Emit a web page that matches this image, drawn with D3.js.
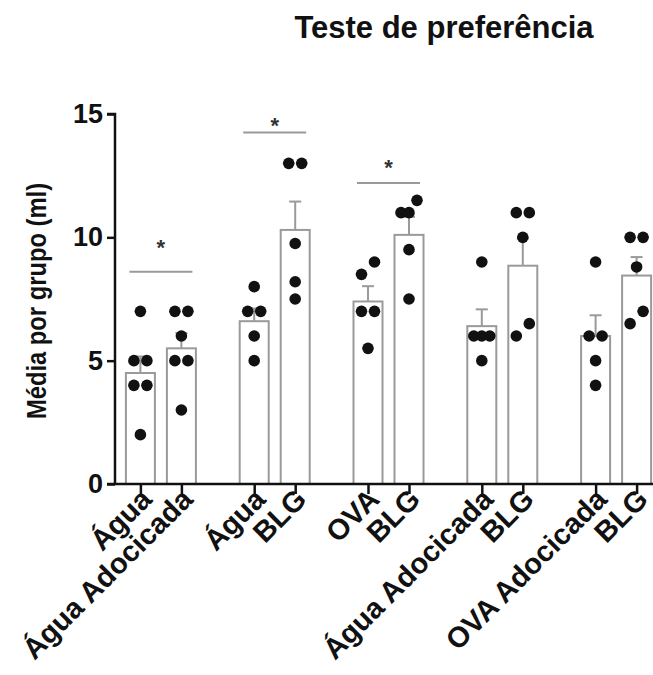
<!DOCTYPE html>
<html>
<head>
<meta charset="utf-8">
<script src="https://cdn.jsdelivr.net/npm/d3@7"></script>
<style>
  html, body { margin: 0; padding: 0; background: #fff; }
  svg { display: block; }
  text { font-family: "Liberation Sans", Arial, sans-serif; font-weight: bold; }
</style>
</head>
<body>
<svg id="chart" width="653" height="675"></svg>
<script>
// ---- data ----
const title = "Teste de preferência";
const yTitle = "Média por grupo (ml)";
const groups = ["G1", "G2", "G3", "G4", "G5"];
const categories = ["Água", "Água Adocicada", "Água", "BLG", "OVA", "BLG", "Água Adocicada", "BLG", "OVA Adocicada", "BLG"];
const groupOf = [0, 0, 1, 1, 2, 2, 3, 3, 4, 4];
const slotOf = [0, 1, 0, 1, 0, 1, 0, 1, 0, 1];
const means = [4.5, 5.5, 6.6, 10.3, 7.4, 10.1, 6.4, 8.85, 6.0, 8.45];
const sems = [0.67, 0.62, 0.51, 1.15, 0.62, 0.73, 0.68, 1.1, 0.84, 0.75];
const points = [
  [7, 5, 5, 4, 4, 2],
  [7, 7, 6, 5, 5, 3],
  [8, 7, 7, 6, 5],
  [13, 13, 9.75, 8.2, 7.5],
  [9, 8.5, 7, 7, 5.5],
  [11.5, 11, 11, 9.5, 7.5],
  [9, 6, 6, 6, 5],
  [11, 11, 10, 6.5, 6],
  [9, 6, 6, 5, 4],
  [10, 10, 8.8, 7, 6.5]
];
const yTicks = [0, 5, 10, 15];
const sigFrom = [0, 2, 4];
const sigTo = [1, 3, 5];
const sigLine = [8.6, 14.25, 12.2];
const sigStar = [9.8, 14.75, 13.05];

// ---- layout ----
const svg = d3.select("#chart");
const y = d3.scaleLinear().domain([0, 15]).range([484, 114]);
const xGroup = d3.scaleBand().domain(groups).range([104, 673]).padding(0);
const xSlot = d3.scalePoint().domain([0, 1]).range([-20.5, 20.5]);
const ids = categories.map((c, i) => "c" + i);
const center = i => xGroup(groups[groupOf[i]]) + xGroup.bandwidth() / 2 + xSlot(slotOf[i]);
const x = d3.scaleOrdinal().domain(ids).range(ids.map((d, i) => center(i)));
const barW = 29;
const axisX = 115;
const gray = "#9a9a9a";
const ink = "#111";

// title
svg.append("text").attr("x", 444).attr("y", 38).attr("text-anchor", "middle")
  .attr("font-size", 31).attr("fill", ink).text(title);

// y title
svg.append("g")
  .attr("transform", `translate(46,${(y(0) + y(15)) / 2 + 2}) rotate(-90) scale(0.88,1)`)
  .append("text")
  .attr("text-anchor", "middle").attr("font-size", 27).attr("fill", ink).text(yTitle);

// bars
svg.append("g").selectAll("rect").data(means).join("rect")
  .attr("x", (d, i) => x(ids[i]) - barW / 2)
  .attr("y", d => y(d))
  .attr("width", barW)
  .attr("height", d => y(0) - y(d))
  .attr("fill", "#fff").attr("stroke", gray).attr("stroke-width", 2);

// error bars (upper only)
const eg = svg.append("g").attr("stroke", gray).attr("stroke-width", 2);
means.forEach((m, i) => {
  const cx = x(ids[i]);
  eg.append("line").attr("x1", cx).attr("x2", cx).attr("y1", y(m)).attr("y2", y(m + sems[i]));
  eg.append("line").attr("x1", cx - 6).attr("x2", cx + 6).attr("y1", y(m + sems[i])).attr("y2", y(m + sems[i]));
});

// dots with simple centred spreading of overlapping values
const r = 5.8;
const dotG = svg.append("g").attr("fill", ink);
points.forEach((vals, i) => {
  const cx = x(ids[i]);
  const sorted = vals.slice().sort((a, b) => a - b);
  const clusters = [];
  sorted.forEach(v => {
    const last = clusters[clusters.length - 1];
    if (last && Math.abs(y(v) - y(last[last.length - 1])) < 13) last.push(v);
    else clusters.push([v]);
  });
  clusters.forEach(cl => {
    const n = cl.length;
    const span = n === 1 ? 0 : Math.min((n - 1) * 13, 16);
    cl.forEach((v, k) => {
      const off = n === 1 ? 0 : -span / 2 + k * span / (n - 1);
      dotG.append("circle").attr("cx", cx + off).attr("cy", y(v)).attr("r", r);
    });
  });
});

// significance lines
sigFrom.forEach((a, k) => {
  const x1 = x(ids[a]) - 11, x2 = x(ids[sigTo[k]]) + 11;
  svg.append("line").attr("x1", x1).attr("x2", x2)
    .attr("y1", y(sigLine[k])).attr("y2", y(sigLine[k]))
    .attr("stroke", gray).attr("stroke-width", 2);
  svg.append("text").attr("x", (x1 + x2) / 2).attr("y", y(sigStar[k]) + 13)
    .attr("text-anchor", "middle").attr("font-size", 22).attr("fill", "#333").text("*");
});

// y axis
const yAxis = svg.append("g").attr("transform", `translate(${axisX},0)`)
  .call(d3.axisLeft(y).tickValues(yTicks).tickSize(8).tickPadding(4));
yAxis.selectAll("path, line").attr("stroke", ink).attr("stroke-width", 2.5);
yAxis.select(".domain").attr("d", `M0,${y(0)}V${y(15)}H-8`);
yAxis.selectAll("text").attr("font-size", 27).attr("font-family", "Liberation Sans, Arial, sans-serif")
  .attr("font-weight", "bold").attr("fill", ink);

// x axis
svg.append("line").attr("x1", axisX - 8).attr("x2", 653).attr("y1", y(0)).attr("y2", y(0))
  .attr("stroke", ink).attr("stroke-width", 2.5);
const xAxis = svg.append("g").attr("transform", `translate(0,${y(0)})`)
  .call(d3.axisBottom(x).tickSize(10).tickFormat(""));
xAxis.select(".domain").remove();
xAxis.selectAll("line").attr("stroke", ink).attr("stroke-width", 2.5);

// rotated category labels (rotation on a wrapping group)
const lab = svg.append("g").selectAll("g").data(ids).join("g")
  .attr("transform", d => `translate(${x(d) + 13},${y(0) + 17}) rotate(-45)`);
lab.append("text")
  .attr("text-anchor", "end")
  .attr("font-size", 29)
  .attr("fill", ink)
  .text((d, i) => categories[i]);
</script>
</body>
</html>
